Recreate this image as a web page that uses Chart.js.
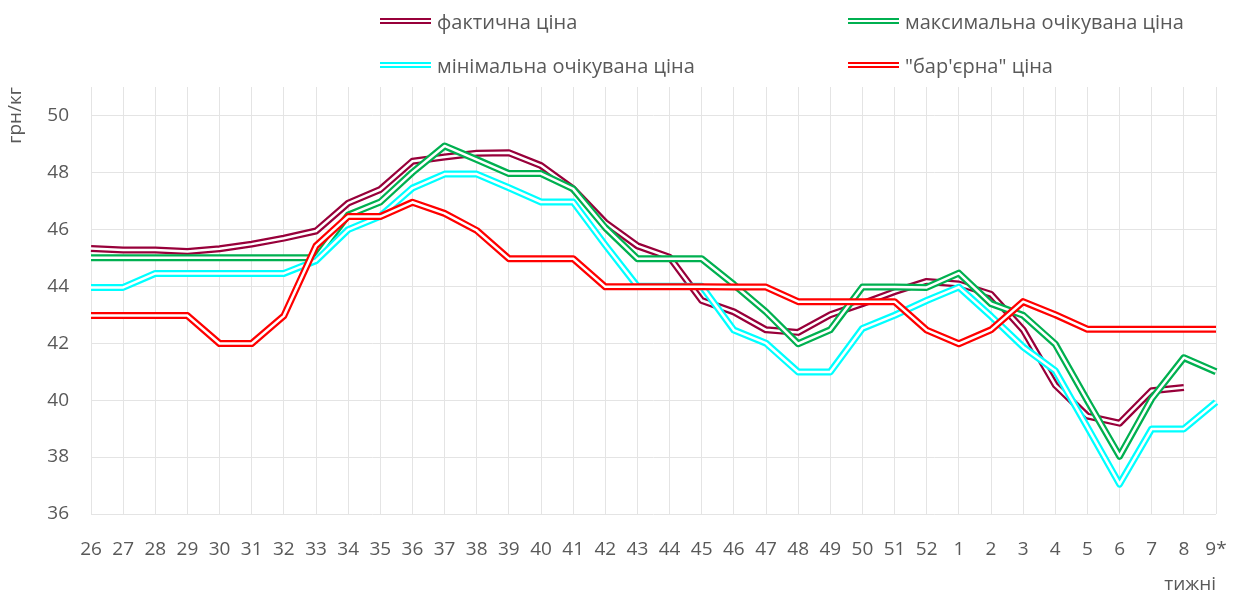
<!DOCTYPE html>
<html lang="uk">
<head>
<meta charset="utf-8">
<script src="https://cdn.jsdelivr.net/npm/chart.js@4"></script>
<style>
  body { margin: 0; background: #fff; font-family: "Open Sans", sans-serif; }
  #wrap { position: relative; width: 1239px; height: 594px; }
  .lg { position: absolute; display: flex; align-items: center; height: 26px; font-size: 20px; color: #595959; white-space: nowrap; }
  .lg i { display: block; width: 51px; height: 2.5px; border-top: 2.5px solid; border-bottom: 2.5px solid; margin-right: 6px; }
</style>
</head>
<body>
<div id="wrap">
  <canvas id="prices"></canvas>
  <div class="lg" style="left:380px;top:8px"><i style="border-color:#98003a"></i>фактична ціна</div>
  <div class="lg" style="left:848px;top:8px"><i style="border-color:#00b050"></i>максимальна очікувана ціна</div>
  <div class="lg" style="left:380px;top:52px"><i style="border-color:#00ffff"></i>мінімальна очікувана ціна</div>
  <div class="lg" style="left:848px;top:52px"><i style="border-color:#ff0000"></i>"бар'єрна" ціна</div>
</div>
<script>
// тижні
var tyzhni = ["26","27","28","29","30","31","32","33","34","35","36","37","38","39","40","41","42","43","44","45","46","47","48","49","50","51","52","1","2","3","4","5","6","7","8","9*"];

var faktychna = [45.33,45.27,45.27,45.22,45.32,45.48,45.69,45.94,46.92,47.40,48.39,48.54,48.67,48.69,48.24,47.42,46.24,45.42,45.02,43.50,43.10,42.47,42.38,43.00,43.39,43.81,44.17,44.08,43.72,42.47,40.53,39.44,39.19,40.33,40.44,null];
var maksymalna = [45.0,45.0,45.0,45.0,45.0,45.0,45.0,45.0,46.5,46.96,48.0,48.93,48.45,47.96,47.96,47.42,46.06,44.97,44.97,44.97,44.06,43.10,41.98,42.47,43.97,43.97,43.96,44.46,43.39,42.98,41.97,39.98,38.03,40.05,41.49,41.0];
var minimalna = [43.96,43.96,44.45,44.45,44.45,44.45,44.45,44.9,45.99,46.46,47.45,47.94,47.94,47.46,46.96,46.96,45.45,44.0,44.0,44.0,42.46,42.0,40.99,40.99,42.52,42.98,43.5,43.97,42.95,41.87,41.03,39.05,37.05,38.99,38.99,39.93];
var barierna = [42.97,42.97,42.97,42.97,41.99,41.99,42.96,45.42,46.45,46.45,46.95,46.56,45.96,44.97,44.97,44.97,43.98,43.98,43.98,43.98,43.97,43.97,43.46,43.46,43.46,43.46,42.46,41.98,42.47,43.46,43.0,42.49,42.49,42.49,42.49,42.49];

var sirii = "#595959";
var shryft = "Open Sans";

// подвійна лінія: товста кольорова + тонка біла всередині
function podviyna(nazva, dani, kolir, ord) {
  var spilne = { data: dani, pointRadius: 0, tension: 0, fill: false, borderJoinStyle: "round", spanGaps: false };
  return [
    Object.assign({ label: nazva, borderColor: kolir, borderWidth: 7, order: ord }, spilne),
    Object.assign({ label: nazva + " (gap)", borderColor: "#ffffff", borderWidth: 2.5, order: ord - 1 }, spilne)
  ];
}

var datasets = [].concat(
  podviyna("фактична ціна", faktychna, "#98003a", 8),
  podviyna("максимальна очікувана ціна", maksymalna, "#00b050", 6),
  podviyna("мінімальна очікувана ціна", minimalna, "#00ffff", 4),
  podviyna("\"бар'єрна\" ціна", barierna, "#ff0000", 2)
);

var ctx = document.getElementById("prices").getContext("2d");
var grafik = new Chart(ctx, {
  type: "line",
  data: { labels: tyzhni, datasets: datasets },
  options: {
    responsive: true,
    maintainAspectRatio: false,
    animation: false,
    layout: { padding: { top: 87, right: 23, left: 0, bottom: 0 } },
    plugins: { legend: { display: false }, tooltip: { enabled: false } },
    scales: {
      x: {
        offset: false,
        grid: { color: "#e4e4e4", drawTicks: false },
        border: { display: false },
        ticks: { color: sirii, font: { family: shryft, size: 19 }, padding: 24, maxRotation: 0, autoSkip: false },
        title: { display: true, text: "тижні", align: "end", color: sirii, font: { family: shryft, size: 19 }, padding: { top: 0, bottom: -2 } },
        afterFit: function (s) { s.height = 80; s.paddingLeft = 0; s.paddingRight = 0; }
      },
      y: {
        min: 36,
        max: 51,
        grid: { color: "#e4e4e4", drawTicks: false },
        border: { display: false },
        ticks: { stepSize: 2, color: sirii, font: { family: shryft, size: 19 }, padding: 22 },
        afterBuildTicks: function (s) { s.ticks = s.ticks.filter(function (t) { return t.value <= 50; }); },
        title: { display: true, text: "грн/кг", align: "end", color: sirii, font: { family: shryft, size: 19 }, padding: { top: 4, bottom: 0 } },
        afterFit: function (s) { s.width = 91; }
      }
    }
  }
});
</script>
</body>
</html>
